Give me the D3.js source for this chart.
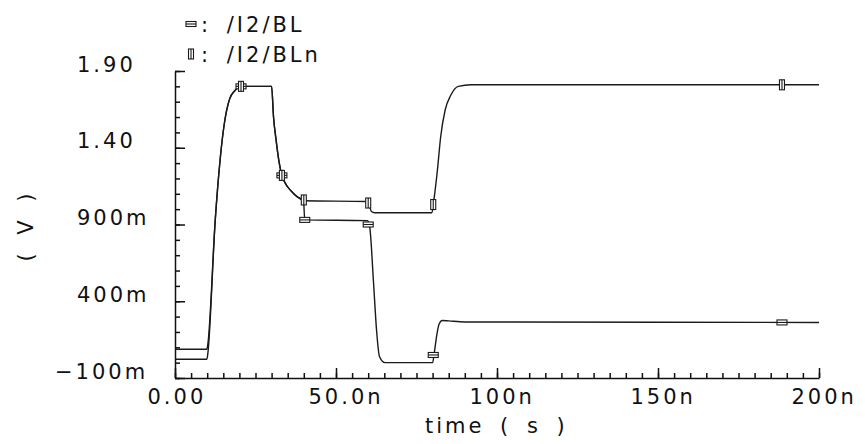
<!DOCTYPE html>
<html>
<head>
<meta charset="utf-8">
<script src="https://cdn.jsdelivr.net/npm/d3@7"></script>
<style>
  body { margin: 0; background: #fff; }
  svg { display: block; }
  text {
    font-family: "DejaVu Sans", sans-serif;
    font-size: 21px;
    letter-spacing: 3px;
    fill: #111;
    font-variant-numeric: slashed-zero;
  }
  .axis path, .axis line { stroke: #111; stroke-width: 1.5; }
  .trace { fill: none; stroke: #1a1a1a; stroke-width: 1.4; }
  .mark { fill: #fff; stroke: #1a1a1a; stroke-width: 1.1; }
</style>
</head>
<body>
<svg width="865" height="444"></svg>
<script>
// values (time in ns, volts)
var blTime  = [0, 9.9, 10.2, 12.5, 14, 15.2, 16, 17, 18.5, 20.5, 30, 30.6, 31.4, 32.3, 33.2, 34.5, 36, 38, 39.9,
               40.3, 59.8, 60.5, 61.6, 62.6, 63.5, 65.2, 80, 80.5, 81.3, 82, 83, 85, 90, 200];
var blVolt  = [0.022, 0.022, 0.06, 0.93, 1.32, 1.54, 1.64, 1.72, 1.77, 1.80, 1.80, 1.60, 1.45, 1.31, 1.22, 1.16, 1.12, 1.08, 1.06,
               0.93, 0.925, 0.88, 0.54, 0.21, 0.04, 0.0, 0.0, 0.06, 0.18, 0.25, 0.275, 0.272, 0.265, 0.262];

var blnTime = [0, 9.9, 10.2, 12.5, 14, 15.2, 16, 17, 18.5, 20.5, 30, 30.6, 31.4, 32.3, 33.2, 34.5, 36, 38, 40,
               59.7, 60.4, 61, 62, 79.8, 80.4, 81.5, 82.5, 83.9, 85.6, 88, 92, 200];
var blnVolt = [0.087, 0.087, 0.12, 0.93, 1.32, 1.54, 1.64, 1.72, 1.77, 1.80, 1.80, 1.60, 1.45, 1.31, 1.22, 1.16, 1.12, 1.08, 1.055,
               1.05, 1.02, 0.985, 0.977, 0.977, 1.06, 1.255, 1.47, 1.646, 1.74, 1.80, 1.81, 1.81];

// marker positions on each trace
var blMarkT  = [20.5, 33.2, 40.3, 60, 80.2, 188.5];
var blMarkV  = [1.80, 1.22, 0.93, 0.90, 0.05, 0.262];
var blnMarkT = [20.5, 33.2, 40, 60, 80.2, 188.5];
var blnMarkV = [1.80, 1.22, 1.06, 1.04, 1.03, 1.81];

var xMajor = [0, 50, 100, 150, 200];
var xTickLabels = ["0.00", "50.0n", "100n", "150n", "200n"];
var yMajor = [-0.1, 0.4, 0.9, 1.4, 1.9];
var yTickLabels = ["\u2212100m", "400m", "900m", "1.40", "1.90"];

var seriesNames = ["/I2/BL", "/I2/BLn"];

var svg = d3.select("svg");

var x = d3.scaleLinear().domain([0, 200]).range([175, 819]);
var y = d3.scaleLinear().domain([-0.1, 1.9]).range([378, 71]);

// minor ticks first, then major ticks with labels
svg.append("g").attr("class", "axis")
  .attr("transform", "translate(0,378)")
  .call(d3.axisBottom(x).tickValues(d3.range(0, 201, 5)).tickSize(-5).tickFormat(""))
  .call(function(g) { g.select(".domain").remove(); });

var xAxis = svg.append("g").attr("class", "axis")
  .attr("transform", "translate(0,378)")
  .call(d3.axisBottom(x).tickValues(xMajor).tickSize(-10).tickSizeOuter(0)
        .tickFormat(function(d, i) { return xTickLabels[i]; }));
xAxis.selectAll("text")
  .attr("text-anchor", "start").attr("x", -28).attr("y", 26).attr("dy", null)
  .attr("font-size", null).attr("font-family", null).attr("fill", null);

svg.append("g").attr("class", "axis")
  .attr("transform", "translate(175,0)")
  .call(d3.axisLeft(y).tickValues(d3.range(-1, 20).map(function(k) { return k / 10; })).tickSize(-5).tickFormat(""))
  .call(function(g) { g.select(".domain").remove(); });

var yAxis = svg.append("g").attr("class", "axis")
  .attr("transform", "translate(175,0)")
  .call(d3.axisLeft(y).tickValues(yMajor).tickSize(-10).tickSizeOuter(0)
        .tickFormat(function(d, i) { return yTickLabels[i]; }));
yAxis.selectAll("text")
  .attr("text-anchor", "start").attr("y", 0).attr("dy", null)
  .attr("x", function(d, i) { return yTickLabels[i].charAt(0) === "\u2212" ? -120 : -98; })
  .attr("font-size", null).attr("font-family", null).attr("fill", null);

// axis titles
svg.append("text").attr("x", 425).attr("y", 433)
  .style("word-spacing", "6px").text("time ( s )");
svg.append("text")
  .attr("transform", "translate(33,226) rotate(-90)")
  .attr("text-anchor", "middle")
  .style("word-spacing", "6px").text("( V )");

// traces
var line = d3.line()
  .x(function(d) { return x(d[0]); })
  .y(function(d) { return y(d[1]); })
  .curve(d3.curveMonotoneX);

var blData = d3.zip(blTime, blVolt);
var blnData = d3.zip(blnTime, blnVolt);

svg.append("path").attr("class", "trace").attr("d", line(blData));
svg.append("path").attr("class", "trace").attr("d", line(blnData));

// markers: BL = flat box, BLn = tall box
function drawMarker(g, cx, cy, wide) {
  var w = wide ? 10 : 5, h = wide ? 5 : 10;
  g.append("rect").attr("class", "mark")
    .attr("x", cx - w / 2).attr("y", cy - h / 2).attr("width", w).attr("height", h);
  if (wide) {
    g.append("line").attr("class", "mark").attr("x1", cx - w / 2).attr("x2", cx + w / 2).attr("y1", cy).attr("y2", cy);
  } else {
    g.append("line").attr("class", "mark").attr("x1", cx).attr("x2", cx).attr("y1", cy - h / 2).attr("y2", cy + h / 2);
  }
}

var marks = svg.append("g");
blMarkT.forEach(function(t, i) { drawMarker(marks, x(t), y(blMarkV[i]), true); });
blnMarkT.forEach(function(t, i) { drawMarker(marks, x(t), y(blnMarkV[i]), false); });

// legend
var legend = svg.append("g");
seriesNames.forEach(function(name, i) {
  var ly = 24 + i * 30;
  drawMarker(legend, 191, ly, i === 0);
  legend.append("text").attr("x", 201).attr("y", ly + 7.5)
    .style("word-spacing", "6px").text(": " + name);
});
</script>
</body>
</html>
